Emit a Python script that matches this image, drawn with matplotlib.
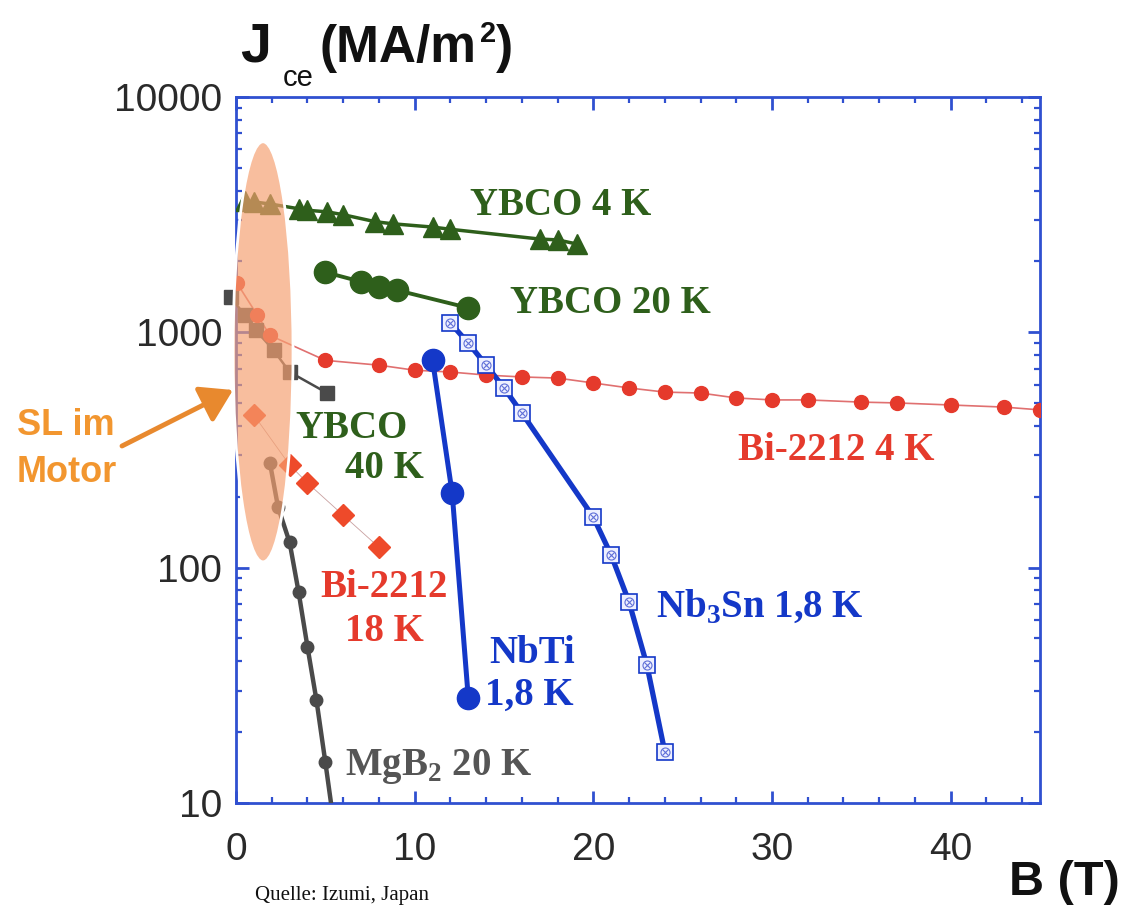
import numpy as np
import matplotlib
matplotlib.use("Agg")
import matplotlib.pyplot as plt
from matplotlib.patches import Ellipse
from matplotlib.ticker import MultipleLocator, FixedLocator, FixedFormatter, NullFormatter

plt.rcParams['mathtext.fontset'] = 'custom'
plt.rcParams['mathtext.bf'] = 'Liberation Serif:bold'
plt.rcParams['mathtext.rm'] = 'Liberation Serif'

# data (B in T, Jce in MA/m^2)
ybco4_b = [0.5, 1.0, 1.9, 3.5, 4.0, 5.1, 6.0, 7.8, 8.8, 11.0, 12.0, 17.0, 18.0, 19.1]
ybco4_j = [3600, 3580, 3510, 3350, 3300, 3250, 3160, 2950, 2890, 2800, 2740, 2490, 2470, 2370]

ybco20_b = [5, 7, 8, 9, 13]
ybco20_j = [1800, 1640, 1560, 1510, 1270]

bi4_b = [0.05, 1.2, 1.9, 5, 8, 10, 12, 14, 16, 18, 20, 22, 24, 26, 28, 30, 32, 35, 37, 40, 43, 45]
bi4_j = [1620, 1180, 970, 760, 725, 690, 678, 658, 646, 639, 609, 580, 557, 552, 526, 516, 516,
         505, 501, 491, 481, 468]

bi18_b = [1, 3, 4, 6, 8]
bi18_j = [445, 273, 229, 167, 122]

ybco40_b = [-0.3, 0.5, 1.1, 2.1, 3.0, 5.1]
ybco40_j = [1410, 1180, 1020, 840, 678, 552]

mgb2_b = [1.9, 2.35, 3.0, 3.5, 4.0, 4.5, 5.0, 5.4]
mgb2_j = [278, 181, 128, 79, 46, 27.4, 14.9, 9]

nbti_b = [11, 12.1, 13]
nbti_j = [762, 207, 28]

nb3sn_b = [12, 13, 14, 15, 16, 20, 21, 22, 23, 24]
nb3sn_j = [1095, 900, 726, 580, 454, 164, 113, 71.4, 38.5, 16.5]

y_ticks = [10, 100, 1000, 10000]
y_tick_labels = ['10', '100', '1000', '10000']
x_ticks = [0, 10, 20, 30, 40]

green = '#2E5F1B'
red = '#E53A2C'
gray = '#4A4A4A'
blue = '#1438C8'
axis_blue = '#3050D0'
orange = '#F2962F'

fig = plt.figure(figsize=(11.32, 9.07), dpi=100)
ax = fig.add_axes([0.2085, 0.1147, 0.7102, 0.7784])
ax.set_yscale('log')
ax.set_xlim(0, 45)
ax.set_ylim(10, 10000)

ax.plot(ybco4_b, ybco4_j, '-^', color=green, lw=2.5, ms=14, zorder=3)
ax.plot(ybco20_b, ybco20_j, '-o', color=green, lw=2.8, ms=16, zorder=3)
ax.plot(bi4_b, bi4_j, '-', color='#E07070', lw=1.2, zorder=3)
ax.plot(bi4_b, bi4_j, 'o', color=red, ms=10, zorder=4)
ax.plot(bi18_b, bi18_j, '-', color='#C8A0A0', lw=0.6, zorder=3)
ax.plot(bi18_b, bi18_j, 'D', color='#EE4A2A', ms=11, zorder=4)
ax.plot(ybco40_b, ybco40_j, '-s', color=gray, lw=1.8, ms=10, zorder=3, clip_on=False)
ax.plot(mgb2_b, mgb2_j, '-o', color=gray, lw=3.2, ms=9, zorder=3)
ax.plot(nbti_b, nbti_j, '-o', color=blue, lw=3.6, ms=16, zorder=3)
ax.plot(nb3sn_b, nb3sn_j, '-', color=blue, lw=3.8, zorder=3)
ax.plot(nb3sn_b, nb3sn_j, 's', mfc='#EEF0FF', mec=blue, mew=1.2, ms=11, zorder=4)
ax.plot(nb3sn_b, nb3sn_j, 'o', mfc='none', mec='#6070D8', mew=0.8, ms=6.5, zorder=5)
ax.plot(nb3sn_b, nb3sn_j, 'x', color='#6070D8', mew=0.8, ms=4.5, zorder=5)

# labels
lab = dict(family='Liberation Serif', fontweight='bold', fontsize=28, va='baseline')
ax.text(13.1, 3150, 'YBCO 4 K', color=green, **lab)
ax.text(15.35, 1208, 'YBCO 20 K', color=green, **lab)
ax.text(28.1, 286, 'Bi-2212 4 K', color=red, **lab)
ax.text(3.3, 355, 'YBCO', color=green, **lab)
ax.text(6.1, 240, '40 K', color=green, **lab)
ax.text(4.7, 75, 'Bi-2212', color=red, **lab)
ax.text(6.1, 49, '18 K', color=red, **lab)
ax.text(14.2, 39.3, 'NbTi', color=blue, **lab)
ax.text(13.95, 26.1, '1,8 K', color=blue, **lab)
ax.text(23.5, 61.7, r'Nb$_{\mathbf{3}}$Sn 1,8 K', color=blue, **lab)
ax.text(6.1, 13.1, r'MgB$_{\mathbf{2}}$ 20 K', color='#555555', **lab)

# highlighted region
ell = Ellipse((0.0336, 0.639), 0.0746, 0.595, transform=ax.transAxes,
              facecolor='#F6A070', alpha=0.68, edgecolor='none', zorder=6, clip_on=False)
ax.add_patch(ell)
ell2 = Ellipse((0.0336, 0.639), 0.0746, 0.595, transform=ax.transAxes,
               facecolor='none', edgecolor='white', lw=2, zorder=7, clip_on=False)
ax.add_patch(ell2)

# axes styling
for s in ax.spines.values():
    s.set_color(axis_blue)
    s.set_linewidth(2)
ax.xaxis.set_major_locator(FixedLocator(x_ticks))
ax.xaxis.set_minor_locator(MultipleLocator(2))
ax.yaxis.set_major_locator(FixedLocator(y_ticks))
ax.yaxis.set_major_formatter(FixedFormatter(y_tick_labels))
ax.yaxis.set_minor_formatter(NullFormatter())
ax.tick_params(which='both', direction='in', top=True, right=True, color=axis_blue,
               labelcolor='#2A2A2A', labelsize=28)
ax.tick_params(which='major', length=9, width=2)
ax.tick_params(which='minor', length=4.5, width=1.6)
ax.tick_params(axis='x', pad=21)
ax.tick_params(axis='y', pad=10)
for t in ax.get_xticklabels() + ax.get_yticklabels():
    t.set_family('Liberation Sans')

# axis titles
title = dict(family='Liberation Sans', fontweight='bold', color='#111111', va='baseline')
fig.text(240 / 1132, 1 - 62 / 907, 'J', fontsize=40, **title)
fig.text(283 / 1132, 1 - 86 / 907, 'ce', family='Liberation Sans', fontsize=21,
         color='#111111', va='baseline')
fig.text(320 / 1132, 1 - 62 / 907, '(MA/m', fontsize=37, **title)
fig.text(480 / 1132, 1 - 42 / 907, '2', fontsize=21, **title)
fig.text(496 / 1132, 1 - 62 / 907, ')', fontsize=37, **title)
fig.text(1120 / 1132, 1 - 895 / 907, 'B (T)', fontsize=35, ha='right',
         family='Liberation Sans', fontweight='bold', color='#111111', va='baseline')
fig.text(255 / 1132, 1 - 900 / 907, 'Quelle: Izumi, Japan', family='Liberation Serif',
         fontsize=15, color='#111111', va='baseline')

# annotation
note = dict(family='Liberation Sans', fontweight='bold', fontsize=26, color=orange,
            va='baseline')
fig.text(17 / 1132, 1 - 435 / 907, 'SL im', **note)
fig.text(17 / 1132, 1 - 482 / 907, 'Motor', **note)
ax.annotate('', xy=(233, 907 - 390), xytext=(122, 907 - 446), xycoords='figure pixels',
            textcoords='figure pixels',
            arrowprops=dict(arrowstyle='-|>,head_length=0.8,head_width=0.5', lw=3.5,
                            color='#E8892E', mutation_scale=24, shrinkA=0, shrinkB=0),
            annotation_clip=False)

fig.savefig('out.png', dpi=100)
